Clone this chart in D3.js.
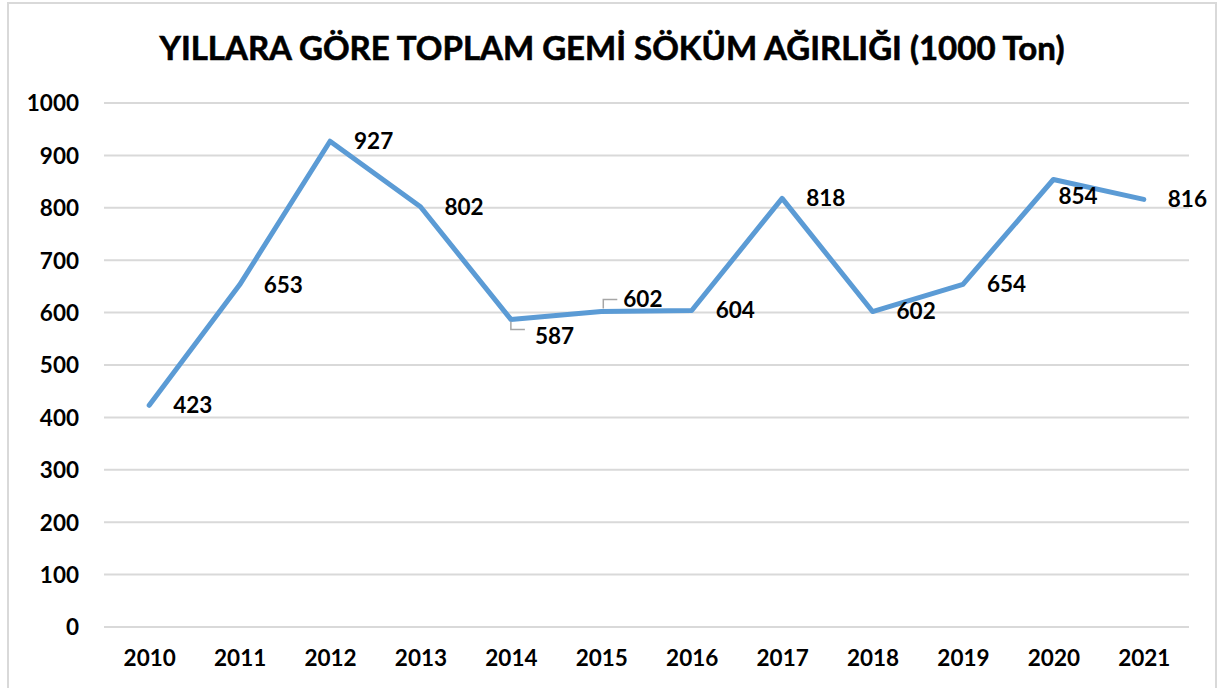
<!DOCTYPE html>
<html>
<head>
<meta charset="utf-8">
<script src="https://cdn.jsdelivr.net/npm/d3@7"></script>
<style>
  body { margin: 0; background: #fff; }
  text { font-family: Lato, "Open Sans", sans-serif; font-weight: 700; fill: #000; }
</style>
</head>
<body>
<svg width="1219" height="688"></svg>
<script>
const years = ["2010", "2011", "2012", "2013", "2014", "2015", "2016", "2017", "2018", "2019", "2020", "2021"];
const weights = [423, 653, 927, 802, 587, 602, 604, 818, 602, 654, 854, 816];
const yTicks = [0, 100, 200, 300, 400, 500, 600, 700, 800, 900, 1000];
const title = "YILLARA GÖRE TOPLAM GEMİ SÖKÜM AĞIRLIĞI (1000 Ton)";

// label nudges for the few labels Excel moved off the point (dx, dy in px)
const labelNudge = { "2014": [24, 17], "2015": [22, -12], "2020": [5, 17] };

const svg = d3.select("svg"),
    margin = { top: 103, right: 30, bottom: 61, left: 104 },
    width = +svg.attr("width") - margin.left - margin.right,
    height = +svg.attr("height") - margin.top - margin.bottom;

// chart border
svg.append("rect")
    .attr("x", 8).attr("y", 3)
    .attr("width", 1208).attr("height", 700)
    .attr("fill", "none")
    .attr("stroke", "#d9d9d9")
    .attr("stroke-width", 2);

svg.append("text")
    .attr("x", 612)
    .attr("y", 60)
    .attr("text-anchor", "middle")
    .style("font-size", "33px")
    .style("stroke", "#000")
    .style("stroke-width", 0.6)
    .text(title);

const g = svg.append("g").attr("transform", `translate(${margin.left},${margin.top})`);

const x = d3.scalePoint()
    .domain(years)
    .range([0, width])
    .padding(0.5);

const y = d3.scaleLinear()
    .domain([0, 1000])
    .range([height, 0]);

// gridlines
g.append("g")
    .selectAll("line")
    .data(yTicks)
    .join("line")
    .attr("x1", 0).attr("x2", width)
    .attr("y1", d => y(d)).attr("y2", d => y(d))
    .attr("stroke", "#d9d9d9")
    .attr("stroke-width", 2);

const yAxis = g.append("g")
    .attr("transform", "translate(-25,0)")
    .call(d3.axisLeft(y).tickValues(yTicks).tickFormat(d3.format("d")).tickSize(0).tickPadding(0));
yAxis.select(".domain").remove();
yAxis.selectAll("text").style("font-size", "22.5px").attr("dy", "0.35em");

const xAxis = g.append("g")
    .attr("transform", `translate(0,${height})`)
    .call(d3.axisBottom(x).tickSize(0).tickPadding(23));
xAxis.select(".domain").remove();
xAxis.selectAll("text").style("font-size", "22.5px");

const line = d3.line()
    .x((d, i) => x(years[i]))
    .y(d => y(d));

g.append("path")
    .datum(weights)
    .attr("d", line)
    .attr("fill", "none")
    .attr("stroke", "#5b9bd5")
    .attr("stroke-width", 5)
    .attr("stroke-linejoin", "round")
    .attr("stroke-linecap", "round");

// leader lines for moved labels
g.append("path")
    .attr("d", `M${x("2014")},${y(587) + 2}V${y(587) + 10}H${x("2014") + 14}`)
    .attr("fill", "none").attr("stroke", "#a6a6a6").attr("stroke-width", 1.5);
g.append("path")
    .attr("d", `M${x("2015") + 2},${y(602) - 3}V${y(602) - 12}H${x("2015") + 16}`)
    .attr("fill", "none").attr("stroke", "#a6a6a6").attr("stroke-width", 1.5);

g.selectAll(".lbl")
    .data(weights)
    .join("text")
    .attr("class", "lbl")
    .attr("x", (d, i) => x(years[i]) + (labelNudge[years[i]] ? labelNudge[years[i]][0] : 24))
    .attr("y", (d, i) => y(d) + (labelNudge[years[i]] ? labelNudge[years[i]][1] : 0))
    .attr("dy", "0.35em")
    .style("font-size", "22.5px")
    .text(d => d);
</script>
</body>
</html>
